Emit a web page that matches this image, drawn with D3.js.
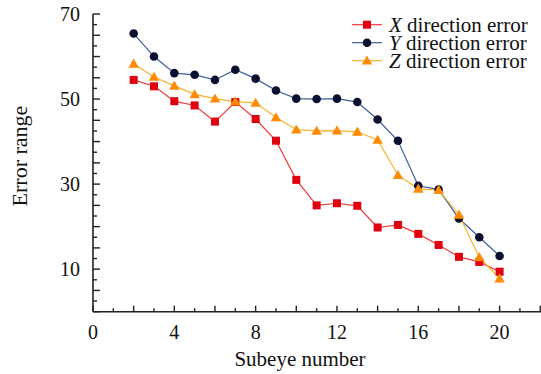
<!DOCTYPE html>
<html>
<head>
<meta charset="utf-8">
<script src="https://cdn.jsdelivr.net/npm/d3@7"></script>
<style>
  body { margin: 0; background: #fff; }
  svg { display: block; }
  text { font-family: "Liberation Serif", "Times New Roman", serif; fill: #111; }
</style>
</head>
<body>
<svg id="chart" width="541" height="374"></svg>
<script>
// Subeye index for each measurement
const subeyes = [2, 3, 4, 5, 6, 7, 8, 9, 10, 11, 12, 13, 14, 15, 16, 17, 18, 19, 20];

// Error range per direction
const xError = [54.5, 53.0, 49.5, 48.5, 44.7, 49.3, 45.3, 40.2, 31.0, 25.0, 25.5, 24.9, 19.8, 20.4, 18.3, 15.7, 12.9, 11.7, 9.4];
const yError = [65.4, 60.0, 56.1, 55.7, 54.5, 56.9, 54.8, 52.0, 50.1, 50.0, 50.1, 49.3, 45.2, 40.2, 29.6, 28.7, 21.9, 17.5, 13.1];
const zError = [58.3, 55.2, 53.1, 51.1, 50.1, 49.4, 49.1, 45.7, 42.8, 42.5, 42.6, 42.3, 40.4, 32.1, 28.9, 28.6, 22.8, 12.8, 7.8];

const xTickLabels = [0, 4, 8, 12, 16, 20];
const yTickLabels = [10, 30, 50, 70];

const seriesNames = ["X", "Y", "Z"];

const svg = d3.select("#chart");
const plotLeft = 93, plotRight = 541, plotTop = 14, plotBottom = 311.7;

const x = d3.scaleLinear().domain([0, 22]).range([plotLeft, plotLeft + 22 * 20.33]);
const y = d3.scaleLinear().domain([0, 70]).range([plotBottom, plotTop]);

const axisColor = "#222";

// Y axis: major ticks every 5, minor every 2.5, labels at 10/30/50/70
const yAxisG = svg.append("g").attr("transform", `translate(${plotLeft},0)`);
yAxisG.append("line").attr("x1", 0).attr("x2", 0).attr("y1", y(0)).attr("y2", y(70))
  .attr("stroke", axisColor).attr("stroke-width", 1.6);
d3.range(0, 70.01, 2.5).forEach(v => {
  const major = Math.abs(v % 5) < 1e-6;
  yAxisG.append("line").attr("x1", 0).attr("x2", major ? 7 : 4)
    .attr("y1", y(v)).attr("y2", y(v)).attr("stroke", axisColor).attr("stroke-width", 1.4);
});
yAxisG.selectAll("text.tl").data(yTickLabels).join("text")
  .attr("class", "tl").attr("x", -13).attr("y", d => y(d)).attr("dy", "0.35em")
  .attr("text-anchor", "end").attr("font-size", 20).text(d => d);

// X axis: major ticks every 2, minor every 1, labels every 4
const xAxisG = svg.append("g").attr("transform", `translate(0,${plotBottom})`);
xAxisG.append("line").attr("x1", x(0)).attr("x2", plotRight).attr("y1", 0).attr("y2", 0)
  .attr("stroke", axisColor).attr("stroke-width", 1.6);
d3.range(0, 22.01, 1).forEach(v => {
  const major = v % 2 === 0;
  xAxisG.append("line").attr("x1", x(v)).attr("x2", x(v))
    .attr("y1", 0).attr("y2", major ? -6 : -3.5).attr("stroke", axisColor).attr("stroke-width", 1.4);
});
xAxisG.selectAll("text.tl").data(xTickLabels).join("text")
  .attr("class", "tl").attr("x", d => x(d)).attr("y", 27)
  .attr("text-anchor", "middle").attr("font-size", 20).text(d => d);

// Axis titles
svg.append("text").attr("x", 300).attr("y", 366).attr("text-anchor", "middle")
  .attr("font-size", 21).text("Subeye number");
svg.append("text").attr("transform", `translate(27,156) rotate(-90)`)
  .attr("text-anchor", "middle").attr("font-size", 22).text("Error range");

// Series definitions
const series = [
  { name: seriesNames[0], values: xError, line: "#ee3b3b", fill: "#e00010", shape: "square" },
  { name: seriesNames[1], values: yError, line: "#3d5f9e", fill: "#0c1030", shape: "circle" },
  { name: seriesNames[2], values: zError, line: "#fbb22a", fill: "#ff8a00", shape: "triangle" }
];

function drawMarker(g, shape, cx, cy, fill) {
  if (shape === "square") {
    g.append("rect").attr("x", cx - 4).attr("y", cy - 4).attr("width", 8).attr("height", 8).attr("fill", fill);
  } else if (shape === "circle") {
    g.append("circle").attr("cx", cx).attr("cy", cy).attr("r", 4.3).attr("fill", fill);
  } else {
    const s = 5.2;
    g.append("path").attr("d", `M${cx},${cy - s}L${cx + s * 1.0},${cy + s * 0.75}L${cx - s * 1.0},${cy + s * 0.75}Z`).attr("fill", fill);
  }
}

const line = d3.line().x(d => x(d[0])).y(d => y(d[1]));

// Draw lines first, then markers on top
series.forEach(s => {
  const pts = subeyes.map((e, i) => [e, s.values[i]]);
  svg.append("path").datum(pts).attr("d", line)
    .attr("fill", "none").attr("stroke", s.line).attr("stroke-width", 1.2);
});
series.forEach(s => {
  const g = svg.append("g");
  subeyes.forEach((e, i) => drawMarker(g, s.shape, x(e), y(s.values[i]), s.fill));
});

// Legend
const legend = svg.append("g");
series.forEach((s, i) => {
  const ly = 24.7 + i * 18;
  legend.append("line").attr("x1", 352).attr("x2", 382).attr("y1", ly).attr("y2", ly)
    .attr("stroke", s.line).attr("stroke-width", 1.2);
  drawMarker(legend, s.shape, 367, ly, s.fill);
  const t = legend.append("text").attr("x", 389).attr("y", ly).attr("dy", "0.35em").attr("font-size", 21);
  t.append("tspan").attr("font-style", "italic").text(s.name);
  t.append("tspan").text(" direction error");
});
</script>
</body>
</html>
